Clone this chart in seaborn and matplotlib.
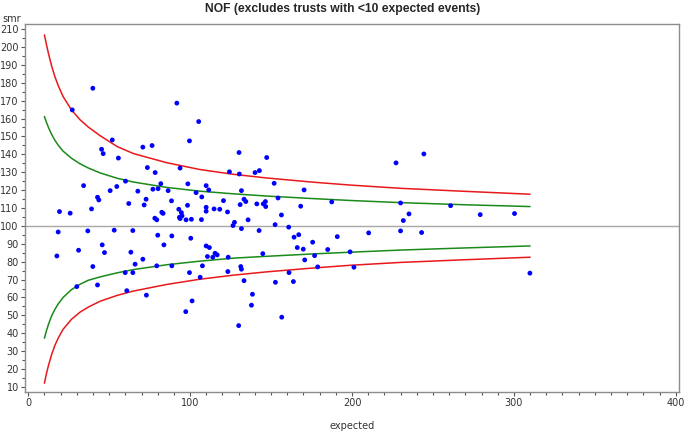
import numpy as np
import pandas as pd
import seaborn as sns
import matplotlib
matplotlib.use("Agg")
import matplotlib.pyplot as plt
from matplotlib.ticker import MultipleLocator

# ===============================
# Data
# ===============================
expected = [
    19.3, 25.9, 27.2, 39.9, 34.2, 39.1, 42.8, 43.6, 45.3, 46.3,
    51.9, 50.6, 54.7, 55.7, 60.1, 62.1, 67.7, 70.8, 71.6, 72.8,
    73.6, 76.5, 77.0, 78.4, 80.2, 81.9, 78.2, 79.4, 82.5, 83.3,
    86.4, 88.5, 91.8, 93.8, 93.0, 94.6, 93.4, 93.8, 95.0, 97.5,
    98.4, 99.6, 98.6, 100.8, 105.3, 103.7, 107.0, 107.2, 109.9, 111.5,
    109.9, 109.9, 114.8, 118.3, 120.6, 123.1, 124.3, 126.5, 127.4, 130.2,
    130.4, 131.7, 130.9, 133.3, 134.4, 135.8, 140.1, 142.8, 141.2, 145.2,
    146.5, 146.7, 147.3, 151.9, 154.3, 156.4, 152.5, 170.4, 168.3, 187.5,
    227.2, 244.4, 230.0, 260.9, 235.2, 231.7, 279.2, 300.4,
    18.5, 17.7, 36.8, 31.1, 30.0, 39.9, 45.7, 47.1, 42.8, 53.1,
    64.6, 63.4, 66.0, 64.6, 59.9, 60.9, 70.8, 73.0, 80.0, 83.8,
    79.4, 88.7, 88.7, 99.6, 100.4, 101.2, 97.3, 106.2, 107.6, 109.9,
    111.9, 110.7, 114.0, 115.4, 116.7, 123.3, 123.5, 130.0, 131.3, 131.7,
    133.3, 137.9, 138.5, 131.7, 142.6, 144.9, 152.7, 156.6, 161.1, 160.9,
    163.8, 164.2, 167.1, 166.2, 169.9, 170.8, 175.7, 176.9, 178.8, 185.0,
    190.9, 210.3, 230.0, 243.0, 198.8, 201.2, 309.9,
]
smr = [
    108.0, 107.1, 164.8, 176.9, 122.5, 109.5, 116.0, 114.5, 142.8, 140.4,
    148.0, 119.7, 122.0, 137.9, 125.0, 112.5, 119.4, 144.0, 111.7, 114.9,
    132.6, 144.9, 120.5, 129.8, 120.8, 123.6, 104.3, 103.4, 107.6, 107.0,
    119.7, 114.0, 168.6, 132.3, 109.3, 107.4, 104.8, 104.1, 105.6, 103.4,
    111.5, 147.5, 123.5, 103.7, 158.3, 118.6, 103.5, 116.2, 122.5, 120.1,
    110.4, 108.2, 109.5, 109.3, 114.1, 107.8, 130.2, 100.2, 102.0, 141.0,
    129.0, 119.7, 111.9, 114.9, 113.6, 103.4, 129.8, 130.9, 112.3, 112.3,
    113.6, 110.8, 138.2, 123.8, 115.6, 106.1, 100.7, 120.1, 111.0, 113.4,
    135.2, 140.2, 112.8, 111.3, 106.7, 103.0, 106.3, 106.9,
    96.6, 83.2, 97.2, 86.4, 66.1, 77.3, 89.4, 85.1, 67.0, 97.6,
    97.4, 85.3, 78.6, 73.9, 73.9, 63.8, 81.4, 61.3, 94.8, 89.4,
    77.7, 94.4, 77.7, 73.9, 93.1, 58.1, 52.1, 71.3, 77.7, 88.8,
    87.9, 82.9, 82.5, 84.7, 83.8, 74.5, 82.5, 44.3, 77.3, 75.8,
    69.4, 55.7, 61.8, 98.5, 97.4, 84.5, 68.5, 49.0, 73.9, 99.3,
    68.9, 93.7, 95.1, 87.9, 87.0, 81.0, 90.9, 83.4, 77.1, 86.8,
    94.0, 96.1, 97.2, 96.3, 85.5, 76.9, 73.6,
]

# control limits
limit_x = [10, 11.2, 12.5, 14.4, 16.5, 18.5, 21.5, 26.7, 32, 37, 44.4,
           55, 65, 85.6, 106, 127, 147, 175, 199, 230, 270, 310]
upper_998 = [206.7, 201.5, 196.3, 189.5, 183.3, 178.4, 172.3, 164.8, 159.3, 155.3, 150.4,
             144.3, 140.4, 135.3, 131.5, 128.8, 126.8, 124.5, 122.8, 121, 119.3, 117.7]
upper_95 = [161.1, 158, 155, 151.2, 147.8, 145.1, 141.8, 137.8, 134.7, 132.4, 129.6,
            126.6, 124.5, 121.5, 119.4, 117.9, 116.7, 115.3, 114.2, 113, 111.8, 110.8]
lower_95 = [37.3, 41.3, 45, 49.6, 53.4, 56.4, 60, 64.4, 67.4, 69.6, 71.5,
            73.8, 75.6, 78.3, 80.3, 82, 83, 84.3, 85.3, 86.5, 87.7, 88.8]
lower_998 = [12.1, 17.3, 22, 28, 33.3, 37.3, 42.2, 47.8, 51.8, 54.6, 57.9,
             61.2, 63.6, 67.3, 70.2, 72.5, 74.3, 76.4, 78, 79.6, 81.1, 82.5]

target = 100

# ===============================
# Plot
# ===============================
sns.set_style("white")
plt.rcParams['font.family'] = ['DejaVu Sans']

points = pd.DataFrame({'expected': expected, 'smr': smr})

fig = plt.figure(figsize=(6.85, 4.32), dpi=100)
ax = fig.add_axes([25 / 685, 1 - 392 / 432, (679 - 25) / 685, (392 - 24) / 432])

ax.axhline(target, color='#a8a8a8', lw=1.0, zorder=1)

for ys, col in [(upper_998, '#e8191b'), (lower_998, '#e8191b'),
                (upper_95, '#1a8a1a'), (lower_95, '#1a8a1a')]:
    sns.lineplot(x=limit_x, y=ys, color=col, lw=1.1, sort=False,
                 estimator=None, ax=ax, zorder=2)

sns.scatterplot(data=points, x='expected', y='smr', color='#0000ff',
                s=12, edgecolor='none', ax=ax, zorder=3)

ax.set_xlim(-2, 402)
ax.set_ylim(7.2, 212.8)
ax.xaxis.set_major_locator(MultipleLocator(100))
ax.xaxis.set_minor_locator(MultipleLocator(10))
ax.yaxis.set_major_locator(MultipleLocator(10))
ax.yaxis.set_minor_locator(MultipleLocator(5))
ax.set_yticks(np.arange(10, 211, 10))

for sp in ax.spines.values():
    sp.set_color('#8c8c8c')
    sp.set_linewidth(1.0)

ax.tick_params(which='major', direction='out', length=3, width=0.8,
               color='#555555', labelsize=7, labelcolor='#333333', pad=1.5,
               bottom=True, left=True)
ax.tick_params(which='minor', direction='out', length=2, width=0.8,
               color='#555555', bottom=True, left=True)

ax.set_xlabel('expected', fontsize=7, color='#333333', labelpad=9)
ax.set_ylabel('')
fig.text(2 / 685, 1 - 22 / 432, 'smr', fontsize=7, color='#333333',
         ha='left', va='baseline')

fig.suptitle('NOF (excludes trusts with <10 expected events)',
             x=0.5, y=1 - 9 / 432, va='center', fontsize=8.7,
             fontweight='bold', family=['Liberation Sans', 'DejaVu Sans'])

fig.savefig('out.png', dpi=100)
